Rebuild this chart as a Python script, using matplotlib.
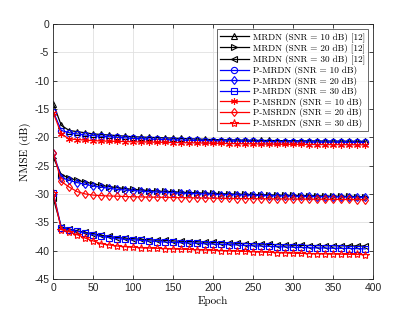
import matplotlib
matplotlib.use("Agg")
import matplotlib.pyplot as plt
import numpy as np

epochs = list(range(0, 400, 10))

mrdn_10 = [-14.1,-17.9,-18.8,-19.0,-19.2,-19.4,-19.5,-19.6,-19.7,-19.8,
           -19.9,-19.95,-20.0,-20.05,-20.1,-20.15,-20.2,-20.25,-20.3,-20.35,
           -20.4,-20.42,-20.45,-20.47,-20.5,-20.52,-20.54,-20.56,-20.58,-20.6,
           -20.6,-20.62,-20.63,-20.64,-20.65,-20.66,-20.67,-20.68,-20.69,-20.7]
mrdn_20 = [-23.6,-26.6,-27.2,-27.6,-27.9,-28.2,-28.5,-28.7,-28.9,-29.05,
           -29.2,-29.3,-29.4,-29.5,-29.55,-29.6,-29.7,-29.75,-29.8,-29.85,
           -29.9,-29.95,-30.0,-30.03,-30.06,-30.1,-30.13,-30.16,-30.2,-30.22,
           -30.25,-30.28,-30.3,-30.33,-30.36,-30.38,-30.4,-30.43,-30.46,-30.48]
mrdn_30 = [-30.8,-35.8,-36.2,-36.5,-36.8,-37.0,-37.3,-37.5,-37.7,-37.8,
           -37.9,-38.0,-38.1,-38.15,-38.2,-38.3,-38.35,-38.4,-38.45,-38.5,
           -38.55,-38.6,-38.65,-38.7,-38.75,-38.8,-38.85,-38.9,-38.95,-39.0,
           -39.05,-39.08,-39.1,-39.12,-39.14,-39.15,-39.16,-39.17,-39.18,-39.2]

pmrdn_10 = [-15.5,-18.8,-19.2,-19.4,-19.6,-19.7,-19.8,-19.9,-20.0,-20.1,
            -20.2,-20.25,-20.3,-20.35,-20.4,-20.45,-20.48,-20.52,-20.55,-20.58,
            -20.6,-20.62,-20.65,-20.67,-20.7,-20.72,-20.74,-20.76,-20.78,-20.8,
            -20.8,-20.82,-20.83,-20.84,-20.85,-20.86,-20.87,-20.88,-20.89,-20.9]
pmrdn_20 = [-22.8,-27.1,-27.6,-28.0,-28.3,-28.6,-28.8,-29.0,-29.2,-29.3,
            -29.4,-29.5,-29.6,-29.65,-29.7,-29.8,-29.85,-29.9,-29.95,-30.0,
            -30.05,-30.1,-30.13,-30.16,-30.2,-30.23,-30.26,-30.3,-30.33,-30.36,
            -30.4,-30.42,-30.44,-30.46,-30.48,-30.5,-30.52,-30.54,-30.56,-30.58]
pmrdn_30 = [-29.8,-36.0,-36.3,-36.6,-36.9,-37.2,-37.5,-37.7,-37.9,-38.0,
            -38.1,-38.2,-38.3,-38.4,-38.5,-38.55,-38.6,-38.65,-38.7,-38.8,
            -38.85,-38.9,-38.95,-39.0,-39.1,-39.15,-39.2,-39.25,-39.3,-39.35,
            -39.4,-39.45,-39.5,-39.52,-39.55,-39.58,-39.6,-39.63,-39.66,-39.7]

pmsrdn_10 = [-15.7,-19.4,-20.3,-20.4,-20.5,-20.6,-20.65,-20.7,-20.72,-20.75,
             -20.8,-20.82,-20.85,-20.87,-20.9,-20.92,-20.95,-20.97,-21.0,-21.02,
             -21.05,-21.07,-21.1,-21.12,-21.14,-21.16,-21.18,-21.2,-21.22,-21.24,
             -21.25,-21.26,-21.27,-21.28,-21.29,-21.3,-21.3,-21.31,-21.32,-21.33]
pmsrdn_20 = [-22.7,-27.8,-28.8,-29.6,-30.0,-30.2,-30.3,-30.35,-30.4,-30.45,
             -30.5,-30.52,-30.55,-30.57,-30.6,-30.62,-30.65,-30.67,-30.7,-30.72,
             -30.75,-30.77,-30.8,-30.81,-30.82,-30.83,-30.85,-30.86,-30.87,-30.88,
             -30.9,-30.91,-30.92,-30.93,-30.94,-30.95,-30.96,-30.97,-30.98,-31.0]
pmsrdn_30 = [-29.9,-36.3,-36.7,-37.2,-37.8,-38.3,-38.8,-39.0,-39.2,-39.3,
             -39.4,-39.5,-39.55,-39.6,-39.65,-39.7,-39.75,-39.8,-39.85,-39.9,
             -39.95,-40.0,-40.05,-40.1,-40.15,-40.2,-40.25,-40.3,-40.35,-40.4,
             -40.45,-40.5,-40.52,-40.55,-40.58,-40.6,-40.63,-40.66,-40.68,-40.7]

labels = ["MRDN (SNR = 10 dB) [12]", "MRDN (SNR = 20 dB) [12]", "MRDN (SNR = 30 dB) [12]",
          "P-MRDN (SNR = 10 dB)", "P-MRDN (SNR = 20 dB)", "P-MRDN (SNR = 30 dB)",
          "P-MSRDN (SNR = 10 dB)", "P-MSRDN (SNR = 20 dB)", "P-MSRDN (SNR = 30 dB)"]

x_ticks = list(range(0, 401, 50))
y_ticks = list(range(-45, 1, 5))

series = [mrdn_10, mrdn_20, mrdn_30, pmrdn_10, pmrdn_20, pmrdn_30,
          pmsrdn_10, pmsrdn_20, pmsrdn_30]
colors = ['k', 'k', 'k', (0, 0, 1), (0, 0, 1), (0, 0, 1), (1, 0, 0), (1, 0, 0), (1, 0, 0)]
markers = ['^', '>', '<', 'o', 'd', 's', (6, 2, 0), 'd', '*']
filled = [False, False, False, False, False, False, True, False, False]
msizes = [5, 5, 5, 4.5, 4.5, 4.5, 5, 4.5, 6]

fig = plt.figure(figsize=(4.15, 3.12), dpi=100)
ax = fig.add_axes([0.1285, 0.106, 0.771, 0.817])

for y, lab, c, m, f, ms in zip(series, labels, colors, markers, filled, msizes):
    ax.plot(epochs, y, color=c, marker=m, markersize=ms, linewidth=0.9,
            markerfacecolor=(c if f else 'none'), markeredgecolor=c,
            markeredgewidth=0.8, label=lab)

ax.set_xlim(0, 400)
ax.set_ylim(-45, 0)
ax.set_xticks(x_ticks)
ax.set_yticks(y_ticks)
ax.set_xticklabels([str(v) for v in x_ticks], family='Liberation Sans', fontsize=7.5)
ax.set_yticklabels([str(v) for v in y_ticks], family='Liberation Sans', fontsize=7.5)
ax.grid(True, color=(0.88, 0.88, 0.88), linewidth=0.6)
ax.set_axisbelow(True)
ax.tick_params(direction='in', length=3, width=0.6, colors=(0.15, 0.15, 0.15),
               top=True, right=True, pad=3)
for sp in ax.spines.values():
    sp.set_color((0.15, 0.15, 0.15))
    sp.set_linewidth(0.6)

serif = ['cmr10', 'DejaVu Serif']
ax.set_xlabel('Epoch', family=serif, fontsize=8, labelpad=2)
ax.set_ylabel('NMSE (dB)', family=serif, fontsize=8, labelpad=2)

leg = ax.legend(loc='upper right', prop={'family': serif, 'size': 6.6},
                frameon=True, fancybox=False, edgecolor=(0.15, 0.15, 0.15),
                borderpad=0.35, labelspacing=0.17, handlelength=3.2,
                handletextpad=0.4, borderaxespad=0.55)
leg.get_frame().set_linewidth(0.6)

fig.savefig('out.png', dpi=100)
